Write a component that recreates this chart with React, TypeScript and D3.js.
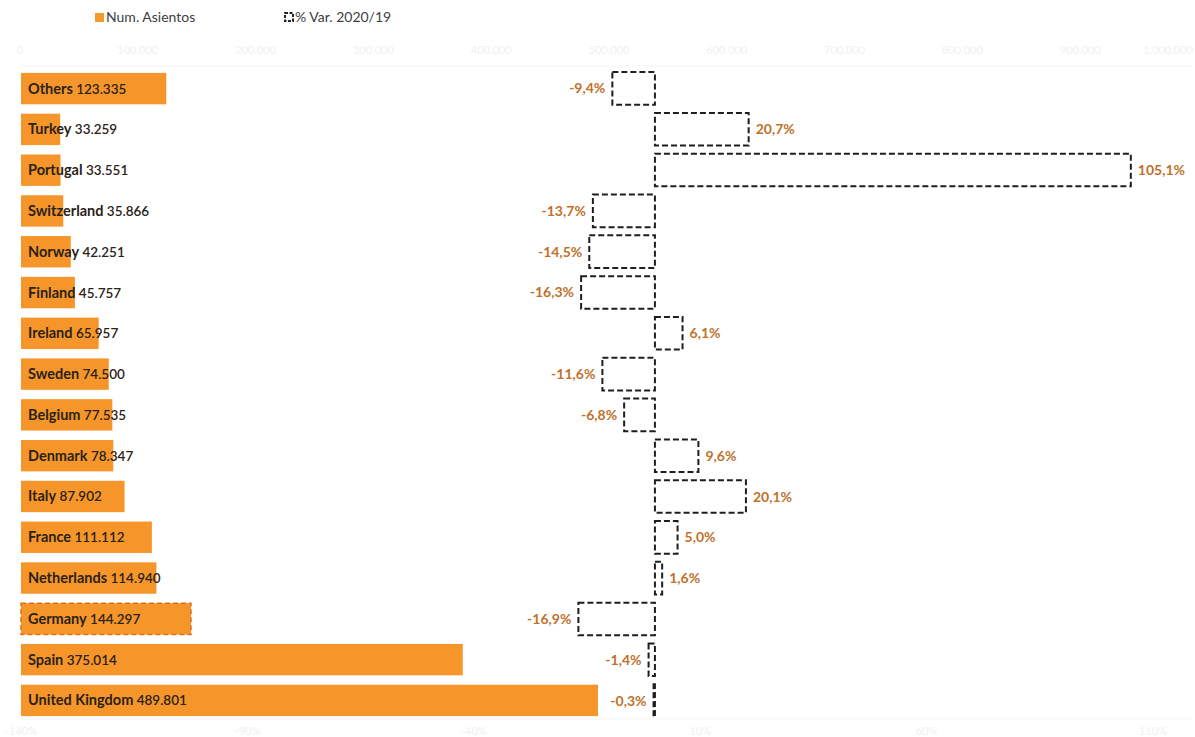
import React from "react";
import * as d3 from "d3";

const categories = [
  "Others", "Turkey", "Portugal", "Switzerland", "Norway", "Finland", "Ireland",
  "Sweden", "Belgium", "Denmark", "Italy", "France", "Netherlands", "Germany",
  "Spain", "United Kingdom",
];
const seats = [
  123335, 33259, 33551, 35866, 42251, 45757, 65957, 74500, 77535, 78347,
  87902, 111112, 114940, 144297, 375014, 489801,
];
const variation = [
  -9.4, 20.7, 105.1, -13.7, -14.5, -16.3, 6.1, -11.6, -6.8, 9.6, 20.1, 5.0,
  1.6, -16.9, -1.4, -0.3,
];
const seatTicks = [0, 100000, 200000, 300000, 400000, 500000, 600000, 700000, 800000, 900000, 1000000];
const pctTicks = [-140, -90, -40, 10, 60, 110];
const highlighted = "Germany";

const W = 1195;
const H = 737;
const FONT = "Lato, 'Noto Sans', sans-serif";

const fmtThousands = (v: number) =>
  d3.format(",")(v).replace(/,/g, ".");
const fmtPct = (v: number) => v.toFixed(1).replace(".", ",") + "%";

export default function App() {
  const xSeats = d3.scaleLinear().domain([0, 1000000]).range([20, 1198]);
  const xPct = d3.scaleLinear().domain([-140, 110]).range([21, 1153]);
  const y = d3.scaleBand<string>().domain(categories).range([68, 721]).paddingInner(0.23).paddingOuter(0.12);
  const yBox = d3.scaleBand<string>().domain(categories).range([68, 721]).paddingInner(0.2).paddingOuter(0.1);

  return (
    <svg
      width={W}
      height={H}
      style={{ position: "absolute", left: 0, top: 0, background: "#fff", fontFamily: FONT }}
    >
      {/* legend */}
      <rect x={95} y={13} width={9} height={9} fill="#F39A2B" />
      <text x={106} y={22} fontSize={14} fill="#404040">Num. Asientos</text>
      <rect x={285} y={13} width={8} height={8} fill="none" stroke="#222" strokeWidth={2} strokeDasharray="3,1.5" />
      <text x={295} y={22} fontSize={14} fill="#404040">% Var. 2020/19</text>

      {/* top axis (faint) */}
      {seatTicks.map((t, i) => (
        <text
          key={"st" + t}
          x={i === seatTicks.length - 1 ? W - 2 : xSeats(t)}
          y={54}
          fontSize={11}
          fill="#f0f0f0"
          textAnchor={i === seatTicks.length - 1 ? "end" : "middle"}
        >
          {fmtThousands(t)}
        </text>
      ))}
      <line x1={20} x2={1192} y1={66} y2={66} stroke="#f5f5f5" />
      <line x1={20} x2={1192} y1={719} y2={719} stroke="#f5f5f5" />

      {/* bottom axis (faint) */}
      {pctTicks.map((t) => (
        <text key={"pt" + t} x={xPct(t)} y={735} fontSize={11} fill="#f0f0f0" textAnchor="middle">
          {t + "%"}
        </text>
      ))}

      {/* seat bars */}
      {categories.map((c, i) => {
        const isH = c === highlighted;
        return (
          <rect
            key={"b" + c}
            x={xSeats(0) + 1}
            y={y(c)}
            width={xSeats(seats[i]) - xSeats(0)}
            height={y.bandwidth()}
            fill="#F6962A"
            stroke={isH ? "#E0701A" : "none"}
            strokeWidth={isH ? 1.5 : 0}
            strokeDasharray={isH ? "5,3" : undefined}
          />
        );
      })}

      {/* variation boxes */}
      {categories.map((c, i) => {
        const v = variation[i];
        const x0 = xPct(Math.min(0, v));
        const x1 = xPct(Math.max(0, v));
        return (
          <rect
            key={"v" + c}
            x={x0}
            y={yBox(c)}
            width={Math.max(1, x1 - x0)}
            height={yBox.bandwidth()}
            fill="none"
            stroke="#1e1e1e"
            strokeWidth={2}
            strokeDasharray="6,3"
          />
        );
      })}

      {/* variation labels */}
      {categories.map((c, i) => {
        const v = variation[i];
        const neg = v < 0;
        const x = neg ? xPct(v) - 7 : xPct(v) + 7;
        return (
          <text
            key={"vl" + c}
            x={x}
            y={(yBox(c) as number) + yBox.bandwidth() / 2 + 5}
            fontSize={14}
            fontWeight={700}
            fill="#C0712C"
            textAnchor={neg ? "end" : "start"}
          >
            {fmtPct(v)}
          </text>
        );
      })}

      {/* category labels */}
      {categories.map((c, i) => (
        <text
          key={"cl" + c}
          x={28}
          y={(y(c) as number) + y.bandwidth() / 2 + 5}
          fontSize={14.5}
          fontWeight={700}
          fill="#2a2218"
        >
          {c}
          <tspan fontSize={13.5} fontWeight={600}>{" " + fmtThousands(seats[i])}</tspan>
        </text>
      ))}
    </svg>
  );
}
